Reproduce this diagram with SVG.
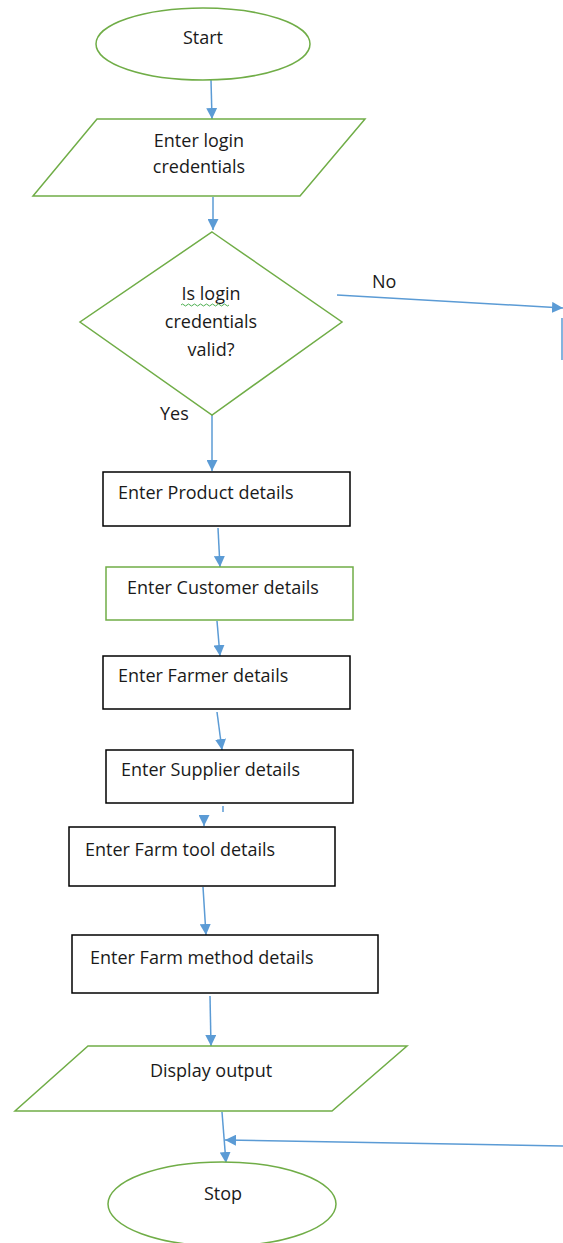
<svg xmlns="http://www.w3.org/2000/svg" width="563" height="1243" viewBox="0 0 563 1243">
<defs>
<style>
.g{fill:#fff;stroke:#70AD47;stroke-width:1.5}
.b{fill:#fff;stroke:#000;stroke-width:1.5}
.t{font-family:"Open Sans","Liberation Sans",Arial,sans-serif;font-size:18px;fill:#1a1a1a}
.c{stroke:#5B9BD5;stroke-width:1.5;fill:none}
</style>
<marker id="ah" viewBox="0 0 10 10" refX="10" refY="5" markerWidth="11" markerHeight="11" markerUnits="userSpaceOnUse" orient="auto"><path d="M0,0 L10,5 L0,10 Z" fill="#5B9BD5"/></marker>
</defs>
<rect width="563" height="1243" fill="#fff"/>
<g id="connectors">
<line class="c" x1="211" y1="80" x2="212" y2="119" marker-end="url(#ah)"/>
<line class="c" x1="213" y1="197" x2="213" y2="230" marker-end="url(#ah)"/>
<line class="c" x1="337" y1="295" x2="563" y2="308" marker-end="url(#ah)"/>
<line class="c" x1="562" y1="318" x2="562" y2="360"/>
<line class="c" x1="212" y1="415" x2="212" y2="471" marker-end="url(#ah)"/>
<line class="c" x1="218" y1="528" x2="220" y2="567" marker-end="url(#ah)"/>
<line class="c" x1="217" y1="621" x2="220" y2="656" marker-end="url(#ah)"/>
<line class="c" x1="217" y1="712" x2="222" y2="750" marker-end="url(#ah)"/>
<line class="c" x1="223" y1="806" x2="223" y2="812"/>
<line class="c" x1="204" y1="815" x2="204" y2="826" marker-end="url(#ah)"/>
<line class="c" x1="203" y1="887" x2="206" y2="935" marker-end="url(#ah)"/>
<line class="c" x1="210" y1="996" x2="211" y2="1046" marker-end="url(#ah)"/>
<line class="c" x1="222" y1="1112" x2="226" y2="1163" marker-end="url(#ah)"/>
<line class="c" x1="563" y1="1146" x2="225" y2="1140" marker-end="url(#ah)"/>
<text class="t" x="372" y="288">No</text>
<text class="t" x="160" y="420">Yes</text>
</g>
<g id="start">
<ellipse class="g" cx="203" cy="44" rx="107" ry="36"/>
<text class="t" x="203" y="44" text-anchor="middle">Start</text>
</g>
<g id="login">
<polygon class="g" points="97,119 365,119 300,196 33,196"/>
<text class="t" x="199" y="147" text-anchor="middle">Enter login</text>
<text class="t" x="199" y="173" text-anchor="middle">credentials</text>
</g>
<g id="decision">
<polygon class="g" points="212,232 342,322 212,415 80,322"/>
<text class="t" x="211" y="300" text-anchor="middle">Is login</text>
<path d="M181,305 q1.5,-2 3,0 t3,0 t3,0 t3,0 t3,0 t3,0 t3,0 t3,0 t3,0 t3,0 t3,0 t3,0 t3,0 t3,0 t3,0 t3,0" fill="none" stroke="#4CAF50" stroke-width="1"/>
<text class="t" x="211" y="328" text-anchor="middle">credentials</text>
<text class="t" x="211" y="356" text-anchor="middle">valid?</text>
</g>
<g id="product">
<rect class="b" x="103" y="472" width="247" height="54"/>
<text class="t" x="118" y="499">Enter Product details</text>
</g>
<g id="customer">
<rect class="g" x="106" y="567" width="247" height="53"/>
<text class="t" x="127" y="594">Enter Customer details</text>
</g>
<g id="farmer">
<rect class="b" x="103" y="656" width="247" height="53"/>
<text class="t" x="118" y="682">Enter Farmer details</text>
</g>
<g id="supplier">
<rect class="b" x="106" y="750" width="247" height="53"/>
<text class="t" x="121" y="776">Enter Supplier details</text>
</g>
<g id="farmtool">
<rect class="b" x="69" y="827" width="266" height="59"/>
<text class="t" x="85" y="856">Enter Farm tool details</text>
</g>
<g id="farmmethod">
<rect class="b" x="72" y="935" width="306" height="58"/>
<text class="t" x="90" y="964">Enter Farm method details</text>
</g>
<g id="display">
<polygon class="g" points="88,1046 407,1046 332,1111 15,1111"/>
<text class="t" x="211" y="1077" text-anchor="middle">Display output</text>
</g>
<g id="stop">
<ellipse class="g" cx="222" cy="1204" rx="114" ry="42"/>
<text class="t" x="223" y="1200" text-anchor="middle">Stop</text>
</g>
</svg>
